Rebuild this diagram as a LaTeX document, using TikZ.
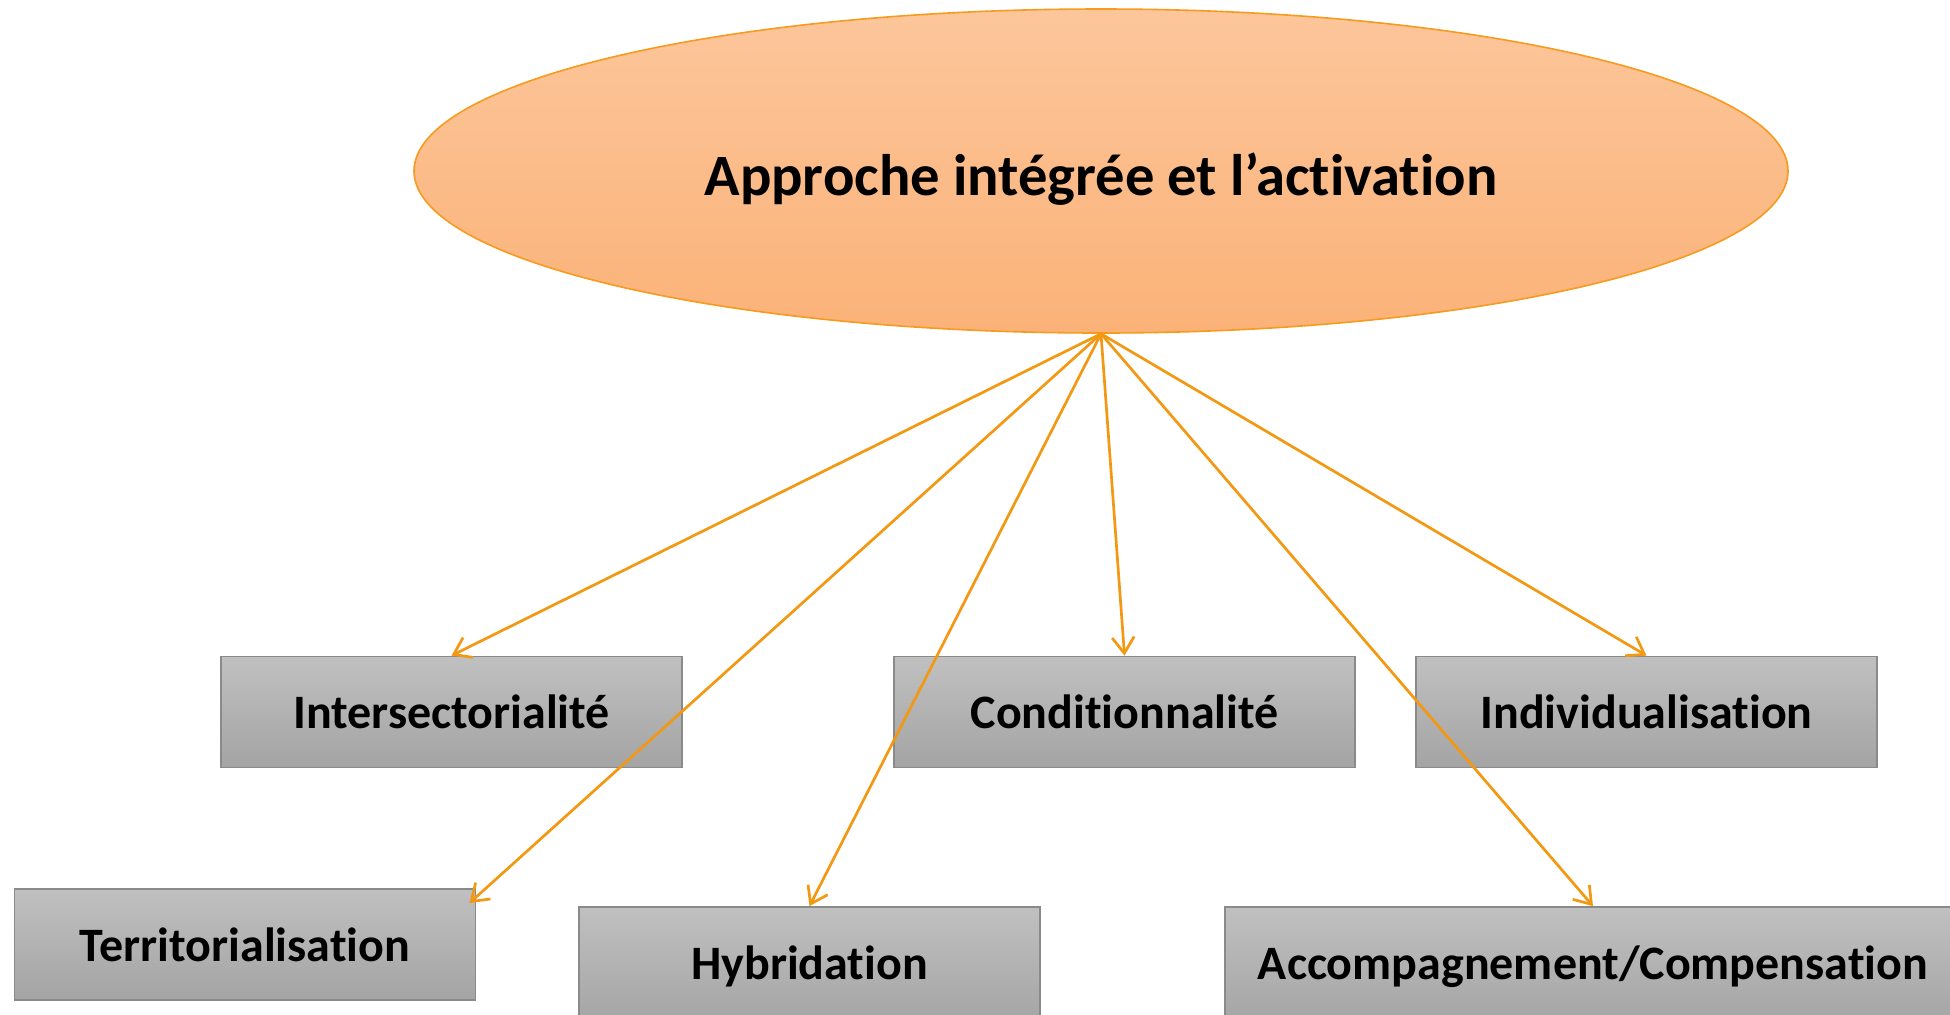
\documentclass[tikz,border=0pt]{standalone}
\usepackage{fontspec}
\setmainfont{Carlito}[Ligatures=NoCommon]
\usetikzlibrary{shapes.geometric,arrows.meta}
\definecolor{ellTop}{RGB}{252,198,155}
\definecolor{ellBot}{RGB}{251,178,120}
\definecolor{ellLine}{RGB}{247,154,30}
\definecolor{arrowOr}{RGB}{243,152,18}
\definecolor{boxTop}{RGB}{192,192,192}
\definecolor{boxBot}{RGB}{164,164,164}
\definecolor{boxLine}{RGB}{138,138,138}
\tikzset{
  mainell/.style={ellipse, draw=ellLine, line width=0.8pt, top color=ellTop, bottom color=ellBot,
    minimum width=687pt, minimum height=162pt, inner sep=0pt},
  elltext/.style={inner sep=0pt, font=\fontsize{29.3}{34}\selectfont\bfseries},
  graybox/.style={rectangle, draw=boxLine, line width=0.9pt, top color=boxTop, bottom color=boxBot,
    minimum width=230.5pt, minimum height=55.5pt, inner sep=0pt,
    font=\fontsize{24}{28}\selectfont\bfseries},
  link/.style={draw=arrowOr, line width=1.35pt, -{Straight Barb[length=8pt,width=11pt,line width=1.35pt]}}
}
\begin{document}
\begin{tikzpicture}[x=0.5pt,y=-0.5pt]
\useasboundingbox (0,0) rectangle (1950,1014);
\clip (0,0) rectangle (1950,1014);
\node[mainell] (ell) at (1101,171) {};
\node[elltext] (title) at (1101,179) {Approche intégrée et l’activation};
\node[graybox] (inter) at (451.5,712) {Intersectorialité};
\node[graybox] (cond) at (1124.5,712) {Conditionnalité};
\node[graybox] (indiv) at (1646.5,712) {Individualisation};
\node[graybox] (terr) at (245,944.5) {Territorialisation};
\node[graybox, minimum height=59.5pt] (hyb) at (809.5,966.5) {Hybridation};
\node[graybox, minimum width=368pt, minimum height=59.5pt] (acc) at (1593,966.5) {Accompagnement/Compensation};
\coordinate (terrtip) at ([xshift=-3.5pt,yshift=-7.5pt]terr.north east);
\draw[link] (ell.south) -- (inter.north);
\draw[link] (ell.south) -- (terrtip);
\draw[link] (ell.south) -- (hyb.north);
\draw[link] (ell.south) -- (cond.north);
\draw[link] (ell.south) -- (indiv.north);
\draw[link] (ell.south) -- (acc.north);
\end{tikzpicture}
\end{document}
